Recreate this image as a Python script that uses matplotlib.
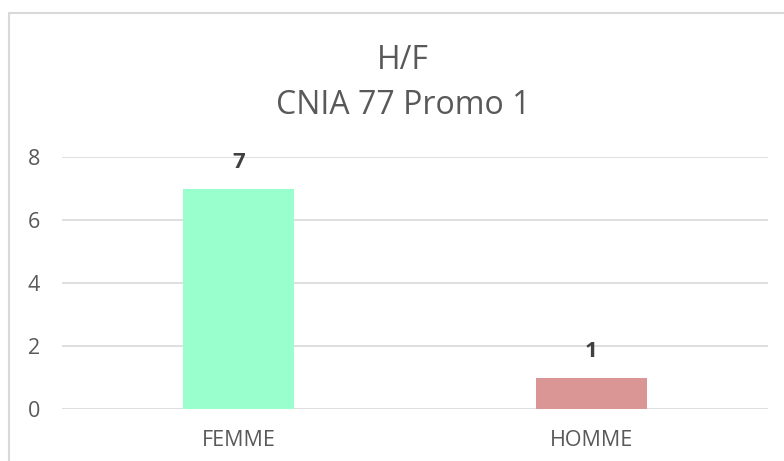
import matplotlib.pyplot as plt
from matplotlib.patches import Rectangle

categories = ['FEMME', 'HOMME']
values = [7, 1]
colors = ['#99FFCC', '#DA9694']
yticks = [0, 2, 4, 6, 8]

plt.rcParams['font.family'] = ['Open Sans', 'DejaVu Sans']

fig = plt.figure(figsize=(7.84, 4.61), dpi=100)
fig.patches.append(Rectangle((9 / 784, -0.05), 1.0, 1 - 13 / 461 + 0.05,
                             transform=fig.transFigure, fill=False,
                             edgecolor='#D9D9D9', linewidth=1.5))

ax = fig.add_axes([62 / 784, 1 - 409 / 461, (768 - 62) / 784, (409 - 157) / 461])
x = range(len(categories))
bars = ax.bar(x, values, width=0.315, color=colors, zorder=3)
for b, v in zip(bars, values):
    ax.annotate(str(v), (b.get_x() + b.get_width() / 2, v), xytext=(0, 14.5),
                textcoords='offset points', ha='center', va='baseline',
                fontsize=16, fontweight='bold', color='#404040')

ax.set_xlim(-0.5, 1.5)
ax.set_ylim(0, 8)
ax.set_yticks(yticks)
ax.set_xticks(list(x))
ax.set_xticklabels(categories)
ax.grid(axis='y', color='#D9D9D9', linewidth=1.2, zorder=0)
for s in ax.spines.values():
    s.set_visible(False)
ax.tick_params(length=0, labelsize=15.5, colors='#595959')
ax.tick_params(axis='y', pad=16)
ax.tick_params(axis='x', pad=15)

fig.text(403 / 784, 1 - 69 / 461, 'H/F', ha='center', va='baseline', fontsize=23, color='#595959')
fig.text(403 / 784, 1 - 114 / 461, 'CNIA 77 Promo 1', ha='center', va='baseline', fontsize=23, color='#595959')

fig.savefig('out.png', dpi=100)
